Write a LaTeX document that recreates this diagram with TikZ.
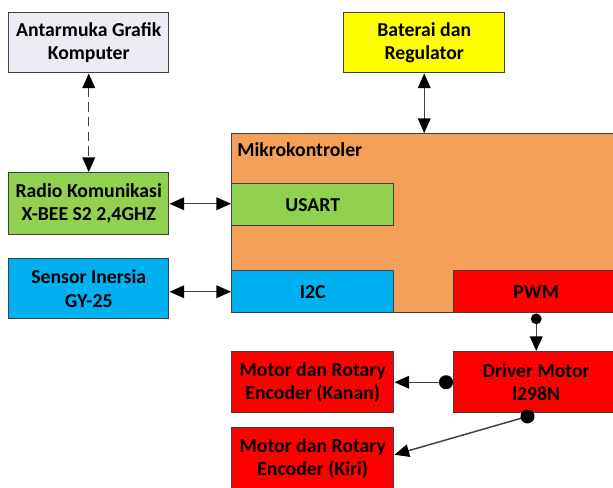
\documentclass[tikz,border=0pt]{standalone}
\usepackage{fontspec}
\setmainfont{Carlito}
\usetikzlibrary{arrows.meta,calc}
\definecolor{bordc}{HTML}{404040}
\definecolor{grayf}{HTML}{ECEAF2}
\definecolor{yellowf}{HTML}{FFFF00}
\definecolor{greenf}{HTML}{92D050}
\definecolor{bluef}{HTML}{00B0F0}
\definecolor{orangef}{HTML}{F5A05A}
\definecolor{redf}{HTML}{FF0000}
\tikzset{
  mytri/.tip={Triangle[length=11pt,width=9.5pt,color=black]},
  mydotA/.tip={Circle[length=10.5pt,color=black]},
  mydotB/.tip={Circle[length=8pt,color=black]}}
\begin{document}
\begin{tikzpicture}[x=0.75pt,y=-0.75pt,
  blk/.style={draw=bordc,line width=1.1pt,anchor=north west,inner sep=0pt,
    align=center,font=\fontsize{14.8}{17.5}\selectfont\bfseries},
  conn/.style={draw=bordc,line width=1.1pt}]
\useasboundingbox (0,0) rectangle (613,487);
\node[blk,fill=grayf,minimum width=120pt,minimum height=45pt] (ant) at (8,12) {Antarmuka Grafik\\Komputer};
\node[blk,fill=yellowf,minimum width=120.75pt,minimum height=45pt] (bat) at (343,12) {Baterai dan\\Regulator};
\node[blk,fill=greenf,minimum width=120pt,minimum height=46.5pt] (radio) at (8,172) {Radio Komunikasi\\X-BEE S2 2,4GHZ};
\node[blk,fill=bluef,minimum width=120pt,minimum height=45pt] (sensor) at (8,258) {Sensor Inersia\\GY-25};
\node[blk,fill=orangef,minimum width=300pt,minimum height=134.25pt] (mikro) at (231,133) {};
\node[anchor=north west,inner sep=0pt,font=\fontsize{14.8}{17.5}\selectfont\bfseries] (mlabel) at (237,142) {Mikrokontroler};
\node[blk,fill=greenf,minimum width=121.5pt,minimum height=31.5pt] (usart) at (231,183) {USART};
\node[blk,fill=bluef,minimum width=121.5pt,minimum height=31.5pt] (i2c) at (231,270) {I2C};
\node[blk,fill=redf,minimum width=123.75pt,minimum height=31.5pt] (pwm) at (453,270) {PWM};
\node[blk,fill=redf,minimum width=123.75pt,minimum height=45.75pt] (drv) at (453,351) {Driver Motor\\l298N};
\node[blk,fill=redf,minimum width=121.5pt,minimum height=45.75pt] (kanan) at (231,351) {Motor dan Rotary\\Encoder (Kanan)};
\node[blk,fill=redf,minimum width=121.5pt,minimum height=46.5pt] (kiri) at (231,427) {Motor dan Rotary\\Encoder (Kiri)};
% connectors
\draw[conn,dashed,dash pattern=on 7pt off 4pt,mytri-mytri] (ant.south) -- (radio.north);
\draw[conn,mytri-mytri] (bat.south) -- (bat.south |- mikro.north);
\draw[conn,mytri-mytri] (radio.east) -- (radio.east -| usart.west);
\draw[conn,mytri-mytri] (i2c.west -| sensor.east) -- (i2c.west);
\draw[conn,mydotB-mytri] (pwm.south) -- (drv.north);
\draw[conn,mydotA-mytri] (drv.west) -- (drv.west -| kanan.east);
\draw[conn,mydotA-mytri] ($(drv.south)+(-2,1)$) -- ($(kiri.east)+(0,-4)$);
\end{tikzpicture}
\end{document}
